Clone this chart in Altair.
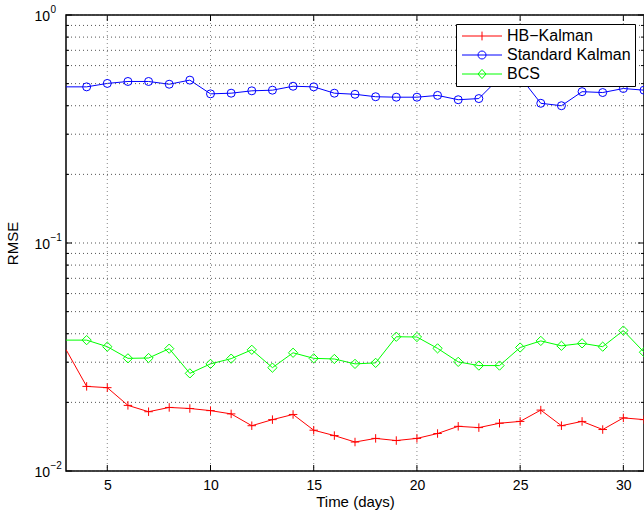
import altair as alt
import pandas as pd

FONT = "Liberation Sans"

days = list(range(3, 32))
series_names = ["HB\u2212Kalman", "Standard Kalman", "BCS"]
series_colors = ["#ff0000", "#0000ff", "#00ff00"]

hb_kalman = [0.0341, 0.0235, 0.0232, 0.0194, 0.0182, 0.0190, 0.0188, 0.0184, 0.0178, 0.0158,
             0.0168, 0.0177, 0.0151, 0.0143, 0.0134, 0.0139, 0.0136, 0.0139, 0.0146, 0.0157,
             0.0155, 0.0162, 0.0165, 0.0185, 0.0158, 0.0165, 0.0152, 0.0171, 0.0168]
standard_kalman = [0.484, 0.484, 0.501, 0.511, 0.511, 0.497, 0.518, 0.451, 0.454, 0.465,
                   0.468, 0.487, 0.484, 0.454, 0.449, 0.438, 0.436, 0.436, 0.444, 0.425,
                   0.430, 0.530, 0.535, 0.410, 0.400, 0.461, 0.457, 0.476, 0.468]
bcs = [0.0375, 0.0375, 0.0351, 0.0312, 0.0313, 0.0344, 0.0268, 0.0295, 0.0311, 0.0340,
       0.0284, 0.0330, 0.0312, 0.0310, 0.0295, 0.0298, 0.0388, 0.0387, 0.0345, 0.0301,
       0.0290, 0.0290, 0.0348, 0.0372, 0.0354, 0.0363, 0.0351, 0.0413, 0.0332]

x_ticks = [5, 10, 15, 20, 25, 30]
y_major = [0.01, 0.1, 1.0]
y_exponents = ["\u22122", "\u22121", "0"]
y_minor = [0.02, 0.03, 0.04, 0.05, 0.06, 0.07, 0.08, 0.09,
           0.2, 0.3, 0.4, 0.5, 0.6, 0.7, 0.8, 0.9]

W, H = 578, 456

rows = []
for name, vals in zip(series_names, [hb_kalman, standard_kalman, bcs]):
    for d, v in zip(days, vals):
        rows.append({"series": name, "day": d, "value": v})
df = pd.DataFrame(rows)

df_xt = pd.DataFrame({"t": x_ticks})
df_ymaj = pd.DataFrame({"v": y_major, "exp": y_exponents})
df_ymin = pd.DataFrame({"v": y_minor})
df_yall = pd.DataFrame({"v": y_minor + y_major})

xscale = alt.Scale(domain=[3, 31], nice=False, zero=False)
yscale = alt.Scale(type="log", domain=[0.01, 1], nice=False)
cscale = alt.Scale(domain=series_names, range=series_colors)

legend_paths = [
    "M-5,0H5M0,-1.1V1.1",
    "M-5,0H5M-1,0A1,1 0 1,1 1,0A1,1 0 1,1 -1,0",
    "M-5,0H5M-1,0L0,-1.15L1,0L0,1.15Z",
]
sscale = alt.Scale(domain=series_names, range=legend_paths)

# grid lines
hgrid = alt.Chart(df_yall).mark_rule(color="#555555", strokeDash=[1, 3], strokeWidth=1).encode(
    y=alt.Y("v:Q", scale=yscale, axis=None))
vgrid = alt.Chart(df_xt).mark_rule(color="#888888", strokeDash=[1, 3], strokeWidth=1).encode(
    x=alt.X("t:Q", scale=xscale, axis=None))

# data lines (carries the axes)
lines = alt.Chart(df).mark_line(strokeWidth=1, clip=True).encode(
    x=alt.X("day:Q", scale=xscale,
            axis=alt.Axis(values=x_ticks, ticks=False, domain=False, grid=False,
                          labelFont=FONT, labelFontSize=14, labelColor="black", labelPadding=7,
                          title="Time (days)", titleFont=FONT, titleFontSize=15,
                          titleFontWeight="normal", titleColor="black", titlePadding=2)),
    y=alt.Y("value:Q", scale=yscale,
            axis=alt.Axis(labels=False, ticks=False, domain=False, grid=False,
                          title="RMSE", titleFont=FONT, titleFontSize=15,
                          titleFontWeight="normal", titleColor="black", titlePadding=46)),
    color=alt.Color("series:N", scale=cscale, legend=None),
    detail="series:N",
)

marker_defs = [
    (series_names[0], "M-1,0H1M0,-1V1", 72),
    (series_names[1], "circle", 64),
    (series_names[2], "diamond", 86),
]
point_layers = []
for (name, shape, size), col in zip(marker_defs, series_colors):
    point_layers.append(
        alt.Chart(df).transform_filter(
            (alt.datum.series == name) & (alt.datum.day > 3)
        ).mark_point(shape=shape, size=size, filled=False, strokeWidth=1, color=col,
                     opacity=1, clip=True).encode(
            x=alt.X("day:Q", scale=xscale, axis=None),
            y=alt.Y("value:Q", scale=yscale, axis=None),
        )
    )

legend_props = dict(title=None, orient="top-right", offset=9,
                    strokeColor="black", fillColor="white", padding=4,
                    labelFont=FONT, labelFontSize=16, labelColor="black",
                    symbolSize=64, symbolStrokeWidth=1, symbolOffset=14,
                    labelOffset=17, rowPadding=3,
                    symbolFillColor="transparent", labelLimit=300)

# legend-only layer (draws no marks)
legend_layer = alt.Chart(df).transform_filter("datum.day < 0").mark_point(
    filled=False, strokeWidth=1, opacity=1).encode(
    x=alt.X("day:Q", scale=xscale, axis=None),
    y=alt.Y("value:Q", scale=yscale, axis=None),
    color=alt.Color("series:N", scale=cscale, legend=alt.Legend(**legend_props)),
    shape=alt.Shape("series:N", scale=sscale, legend=alt.Legend(**legend_props)),
)

# inner ticks
tick_layers = []
for y1, y2 in [(H, H - 6), (0, 6)]:
    tick_layers.append(alt.Chart(df_xt).mark_rule(color="black", strokeWidth=1).encode(
        x=alt.X("t:Q", scale=xscale, axis=None), y=alt.value(y1), y2=alt.value(y2)))
for data, L in [(df_ymaj, 6), (df_ymin, 3)]:
    for x1, x2 in [(0, L), (W, W - L)]:
        tick_layers.append(alt.Chart(data).mark_rule(color="black", strokeWidth=1).encode(
            y=alt.Y("v:Q", scale=yscale, axis=None), x=alt.value(x1), x2=alt.value(x2)))

# y tick labels 10^n
ylab_base = alt.Chart(df_ymaj).mark_text(align="right", baseline="middle", dy=2,
                                         font=FONT, fontSize=14, color="black").encode(
    y=alt.Y("v:Q", scale=yscale, axis=None), x=alt.value(-16), text=alt.value("10"))
ylab_exp = alt.Chart(df_ymaj).mark_text(align="left", baseline="middle", dy=-5,
                                        font=FONT, fontSize=10, color="black").encode(
    y=alt.Y("v:Q", scale=yscale, axis=None), x=alt.value(-15.5), text="exp:N")

chart = alt.layer(
    lines, hgrid, vgrid, *point_layers, legend_layer, *tick_layers, ylab_base, ylab_exp
).resolve_scale(
    color="independent", shape="independent"
).resolve_axis(
    x="independent", y="independent"
).properties(
    width=W, height=H,
    autosize=alt.AutoSizeParams(type="none"),
    padding={"left": 66, "top": 15, "right": 0, "bottom": 43},
    background="white",
).configure_view(stroke="black", strokeWidth=1.5)

chart.save("out.html", embed_options={"renderer": "svg", "actions": False})
